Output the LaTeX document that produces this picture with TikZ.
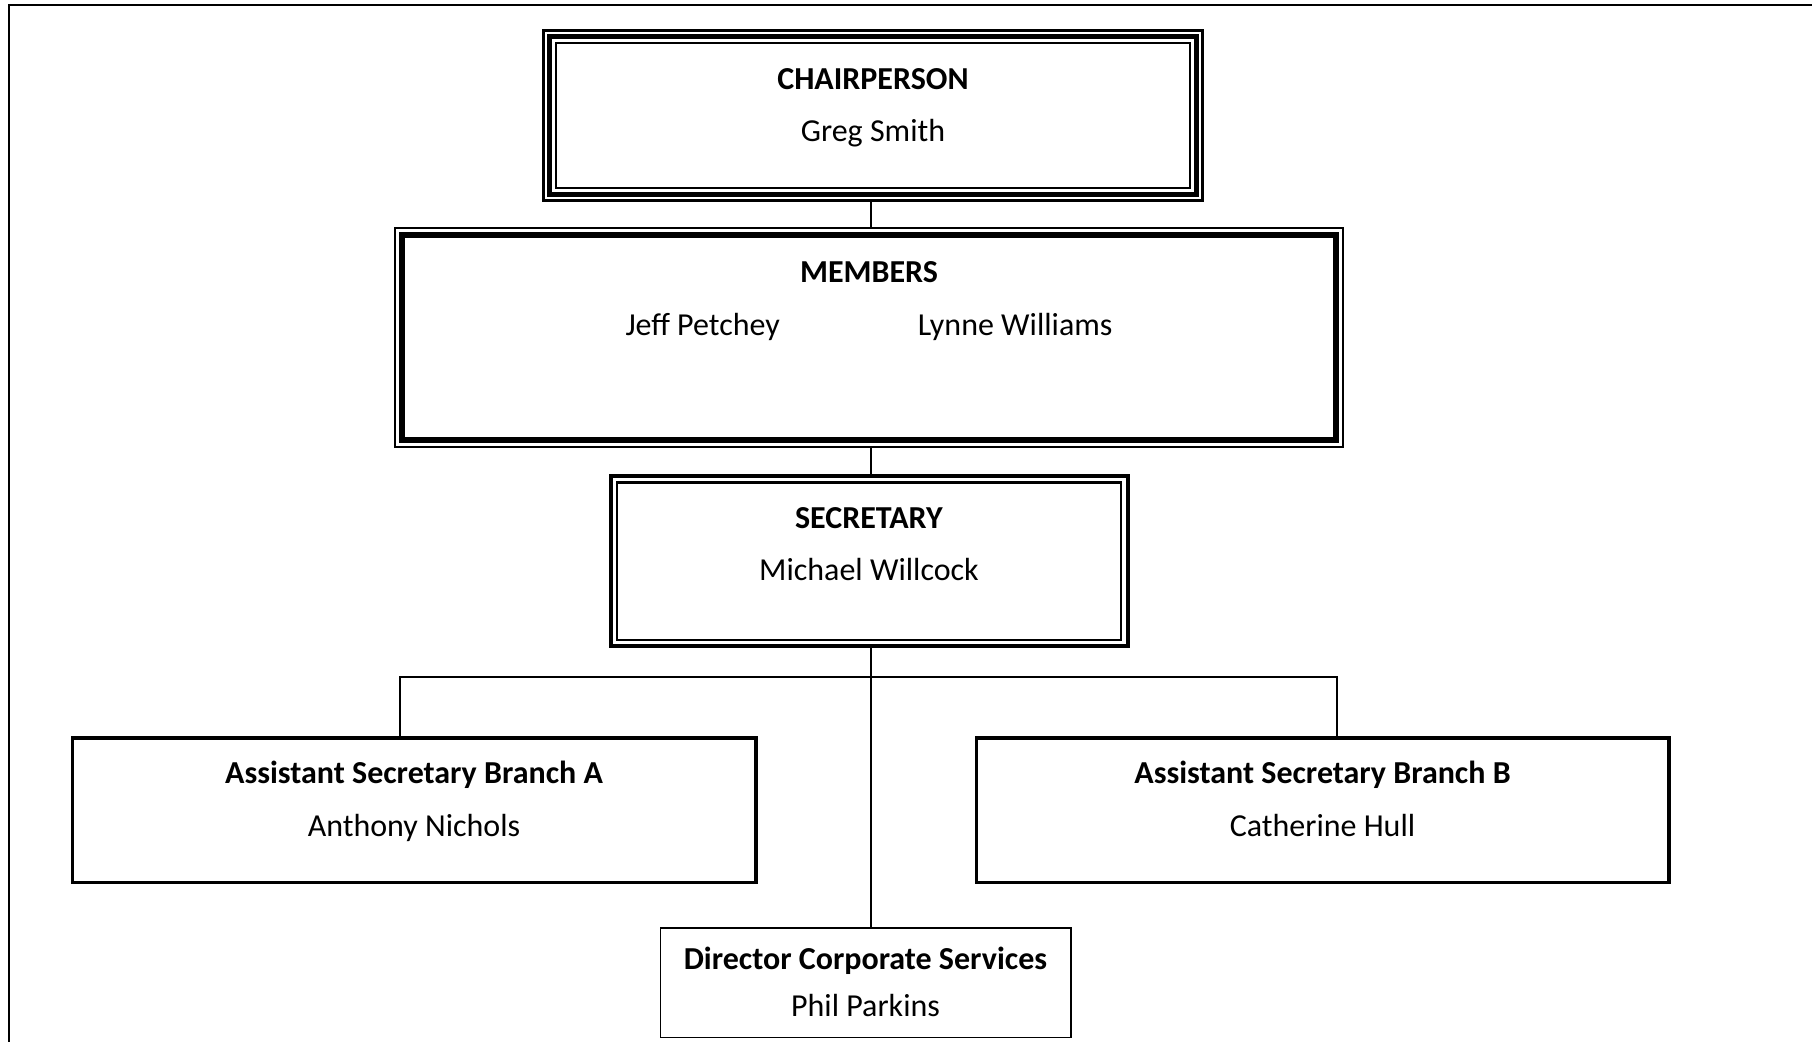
\documentclass[tikz,border=0pt]{standalone}
\usepackage{fontspec}
\setmainfont{Carlito}
\usetikzlibrary{positioning,calc}

\begin{document}
\begin{tikzpicture}[x=1pt,y=1pt, every node/.style={font=\fontsize{16}{26}\selectfont}, txt/.style={align=center,inner sep=0pt}, c/.style={line width=0.75pt}]
\useasboundingbox (0,0) rectangle (906,521);
\draw[line width=0.9pt] (4.5,-5) |- (915,518.5);
% boxes
\node[draw,line width=1.5pt,minimum width=329.5pt,minimum height=85.2pt] (chair) at (436.5,463.15) {};
\node[draw,line width=1pt,minimum width=474pt,minimum height=109.5pt,below=12.4pt of chair,xshift=-2pt] (mem) {};
\node[draw,line width=2pt,minimum width=258.5pt,minimum height=85pt,below=13pt of mem] (sec) {};
\node[draw,line width=1.8pt,minimum width=341.7pt,minimum height=72.2pt,below=44pt of sec,xshift=-227.5pt] (brA) {};
\node[draw,line width=1.8pt,minimum width=346.2pt,minimum height=72.2pt,below=44pt of sec,xshift=226.75pt] (brB) {};
\node[draw,line width=0.75pt,minimum width=205.25pt,minimum height=54.75pt,below=139.5pt of sec,xshift=-1.75pt] (dir) {};
% inner frames
\draw[line width=2.5pt] ($(chair.north west)+(3.75,-3.75)$) rectangle ($(chair.south east)+(-3.75,3.75)$);
\draw[line width=1pt] ($(chair.north west)+(7,-7)$) rectangle ($(chair.south east)+(-7,7)$);
\draw[line width=3pt] ($(mem.north west)+(4,-4)$) rectangle ($(mem.south east)+(-4,4)$);
\draw[line width=1.2pt] ($(sec.north west)+(4.2,-4.2)$) rectangle ($(sec.south east)+(-4.2,4.2)$);
% texts
\node[txt,below=19.4pt of chair.north] (chairtxt) {\textbf{CHAIRPERSON}\\Greg Smith};
\node[txt,below=16.9pt of mem.north] (memtxt) {\textbf{MEMBERS}\\[0.5pt]Jeff Petchey\hspace{69pt}Lynne Williams};
\node[txt,below=16.4pt of sec.north] (sectxt) {\textbf{SECRETARY}\\Michael Willcock};
\node[txt,below=12.3pt of brA.north] (brAtxt) {\textbf{Assistant Secretary Branch A}\\[0.5pt]Anthony Nichols};
\node[txt,below=12.3pt of brB.north] (brBtxt) {\textbf{Assistant Secretary Branch B}\\[0.5pt]Catherine Hull};
\node[txt,below=9.9pt of dir.north,font=\fontsize{16}{23.5}\selectfont] (dirtxt) {\textbf{Director Corporate Services}\\Phil Parkins};
% connectors
\coordinate (bus) at (435.5,182.5);
\coordinate[left=235.5pt of bus] (busA);
\coordinate[right=233pt of bus] (busB);
\draw[c] (chair.south -| bus) -- (mem.north -| bus);
\draw[c] (mem.south -| bus) -- (sec.north -| bus);
\draw[c] (sec.south -| bus) -- (dir.north -| bus);
\draw[c] (busA |- brA.north) |- (busB) -- (busB |- brB.north);
\end{tikzpicture}
\end{document}
